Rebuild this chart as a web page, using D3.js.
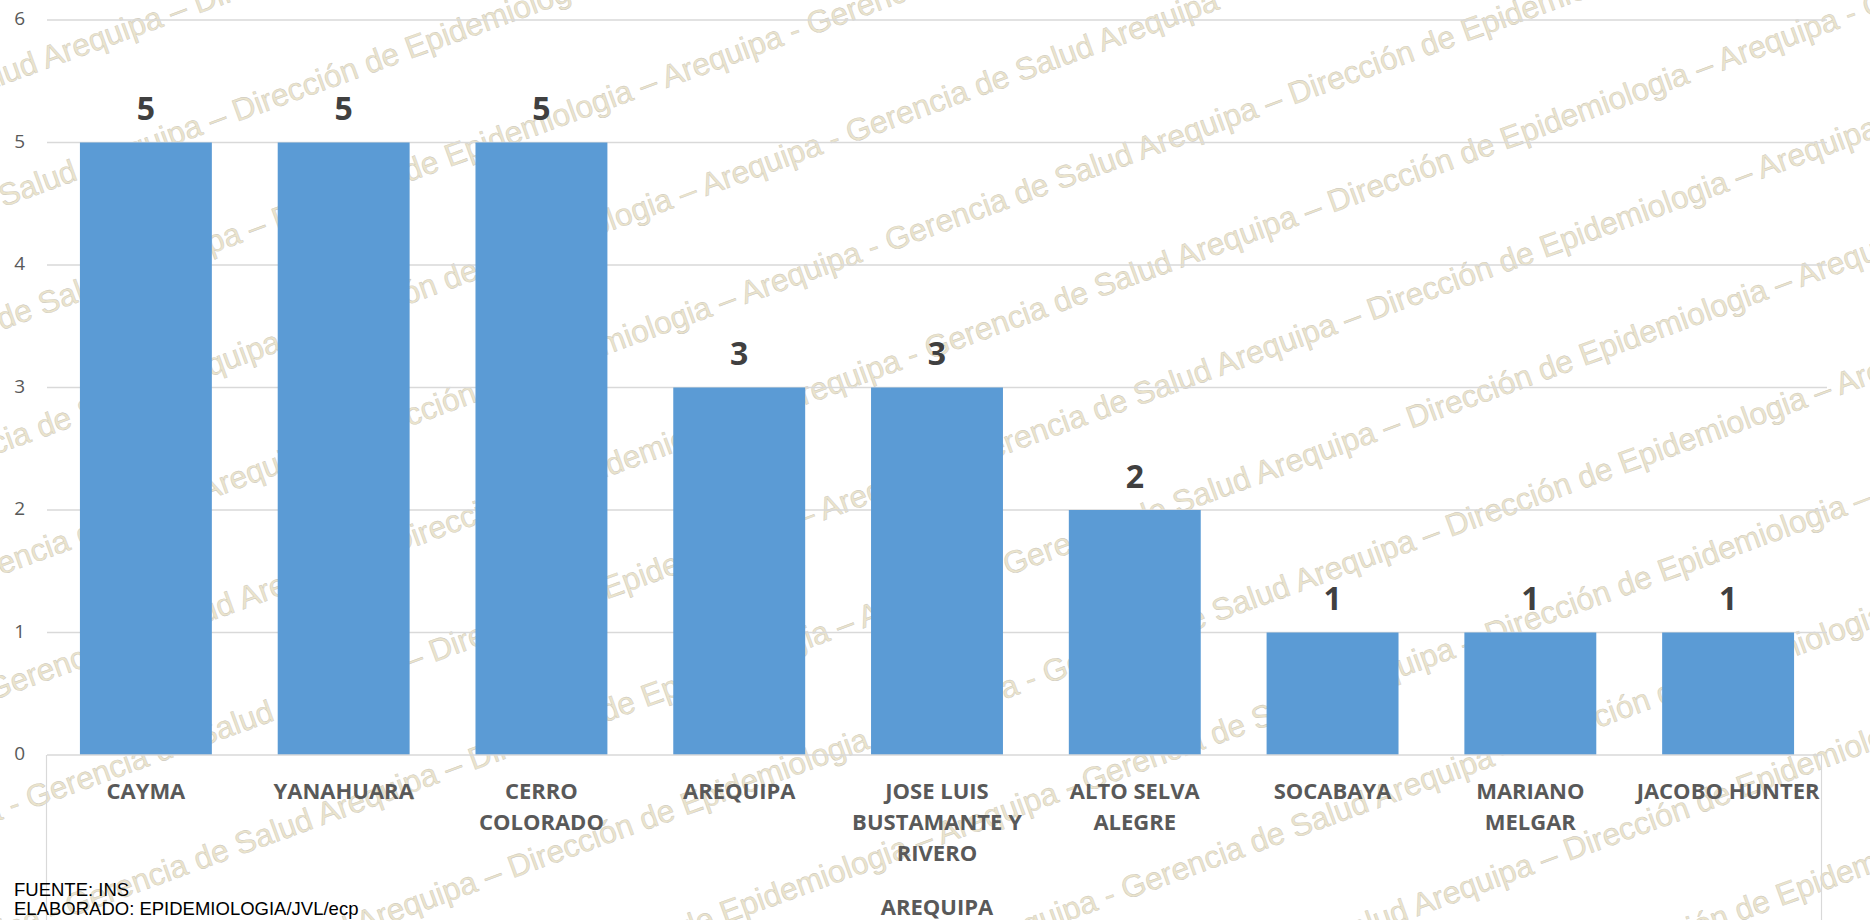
<!DOCTYPE html>
<html>
<head>
<meta charset="utf-8">
<script src="https://cdn.jsdelivr.net/npm/d3@7"></script>
<style>
  html, body { margin: 0; padding: 0; background: #fff; }
  svg { display: block; }
</style>
</head>
<body>
<svg id="chart" width="1870" height="920"></svg>
<script>
// ---- data ----
const categories = ["CAYMA", "YANAHUARA", "CERRO COLORADO", "AREQUIPA", "JOSE LUIS BUSTAMANTE Y RIVERO", "ALTO SELVA ALEGRE", "SOCABAYA", "MARIANO MELGAR", "JACOBO HUNTER"];
const values = [5, 5, 5, 3, 3, 2, 1, 1, 1];
const yTicks = [0, 1, 2, 3, 4, 5, 6];
const axisTitle = "AREQUIPA";
const footnotes = ["FUENTE: INS", "ELABORADO: EPIDEMIOLOGIA/JVL/ecp"];
const watermarkText = "Gerencia de Salud Arequipa \u2013 Direcci\u00f3n de Epidemiologia \u2013 Arequipa - ";
const watermarkPrefix = "Gerencia de Salud Arequipa \u2013 ";

const W = 1870, H = 920;
const svg = d3.select("#chart");

const x = d3.scaleBand().domain(categories).range([47, 1827]).paddingInner(0.333).paddingOuter(0.1665);
const y = d3.scaleLinear().domain([0, 6]).range([755, 20]);

// ---- watermark (behind everything) ----
const wm = svg.append("g").attr("transform", "translate(1347,330) rotate(-20)");
const measure = wm.append("text").attr("font-family", "Liberation Sans, Arial, sans-serif").attr("font-size", 31.5).text(watermarkText);
const unitLen = measure.node().getComputedTextLength();
measure.text(watermarkPrefix);
const prefixLen = measure.node().getComputedTextLength();
measure.remove();
const rows = d3.range(-9, 10);
wm.selectAll("text.wm").data(rows).join("text")
  .attr("class", "wm")
  .attr("x", -prefixLen - 2 * unitLen)
  .attr("y", d => d * 115)
  .attr("font-family", "Liberation Sans, Arial, sans-serif")
  .attr("font-size", 31.5)
  .attr("fill", "#ebe4cc")
  .attr("stroke", "#c4c1b8")
  .attr("stroke-width", 0.35)
  .attr("xml:space", "preserve")
  .style("white-space", "pre")
  .text(watermarkText.repeat(5));

// ---- gridlines ----
const grid = svg.append("g");
grid.selectAll("line").data(yTicks.filter(t => t > 0)).join("line")
  .attr("x1", 47).attr("x2", 1827)
  .attr("y1", d => y(d)).attr("y2", d => y(d))
  .attr("stroke", "#d9d9d9").attr("stroke-width", 1.3);

// y tick labels
svg.append("g").selectAll("text").data(yTicks).join("text")
  .attr("x", 25).attr("y", d => y(d))
  .attr("text-anchor", "end").attr("dominant-baseline", "middle")
  .attr("font-family", "Open Sans, sans-serif").attr("font-size", 19)
  .attr("fill", "#595959")
  .text(d => d);

// ---- bars ----
svg.append("g").selectAll("rect").data(values).join("rect")
  .attr("x", (d, i) => x(categories[i]))
  .attr("width", x.bandwidth())
  .attr("y", d => y(d))
  .attr("height", d => y(0) - y(d))
  .attr("fill", "#5b9bd5");

// axis line and frame lines below
svg.append("line").attr("x1", 47).attr("x2", 1822).attr("y1", y(0)).attr("y2", y(0))
  .attr("stroke", "#d9d9d9").attr("stroke-width", 1.5);
svg.append("line").attr("x1", 46.5).attr("x2", 46.5).attr("y1", y(0)).attr("y2", H)
  .attr("stroke", "#d9d9d9").attr("stroke-width", 1.2);
svg.append("line").attr("x1", 1821.5).attr("x2", 1821.5).attr("y1", y(0)).attr("y2", H)
  .attr("stroke", "#d9d9d9").attr("stroke-width", 1.2);

// data labels
svg.append("g").selectAll("text").data(values).join("text")
  .attr("x", (d, i) => x(categories[i]) + x.bandwidth() / 2)
  .attr("y", d => y(d) - 22.5)
  .attr("text-anchor", "middle")
  .attr("font-family", "Open Sans, sans-serif").attr("font-weight", 700).attr("font-size", 32)
  .attr("fill", "#404040")
  .text(d => d);

// category labels with wrapping
const catG = svg.append("g");
categories.forEach(c => {
  const t = catG.append("text")
    .attr("text-anchor", "middle")
    .attr("font-family", "Open Sans, sans-serif").attr("font-weight", 700).attr("font-size", 22)
    .attr("fill", "#595959");
  const cx = x(c) + x.bandwidth() / 2;
  const words = c.split(" ");
  let lines = [], cur = [];
  const maxW = 190;
  words.forEach(w => {
    const trial = cur.concat([w]).join(" ");
    t.text(trial);
    if (cur.length && t.node().getComputedTextLength() > maxW) {
      lines.push(cur.join(" "));
      cur = [w];
    } else cur.push(w);
  });
  lines.push(cur.join(" "));
  t.text(null);
  lines.forEach((ln, i) => {
    t.append("tspan").attr("x", cx).attr("y", 799 + i * 31).text(ln);
  });
});

// axis title
svg.append("text").attr("x", (47 + 1827) / 2).attr("y", 915)
  .attr("text-anchor", "middle")
  .attr("font-family", "Open Sans, sans-serif").attr("font-weight", 700).attr("font-size", 22)
  .attr("fill", "#595959").text(axisTitle);

// footnotes
svg.append("g").selectAll("text").data(footnotes).join("text")
  .attr("x", 14).attr("y", (d, i) => 896 + i * 19)
  .attr("font-family", "Liberation Sans, Arial, sans-serif").attr("font-size", 18.5)
  .attr("fill", "#000")
  .text(d => d);
</script>
</body>
</html>
